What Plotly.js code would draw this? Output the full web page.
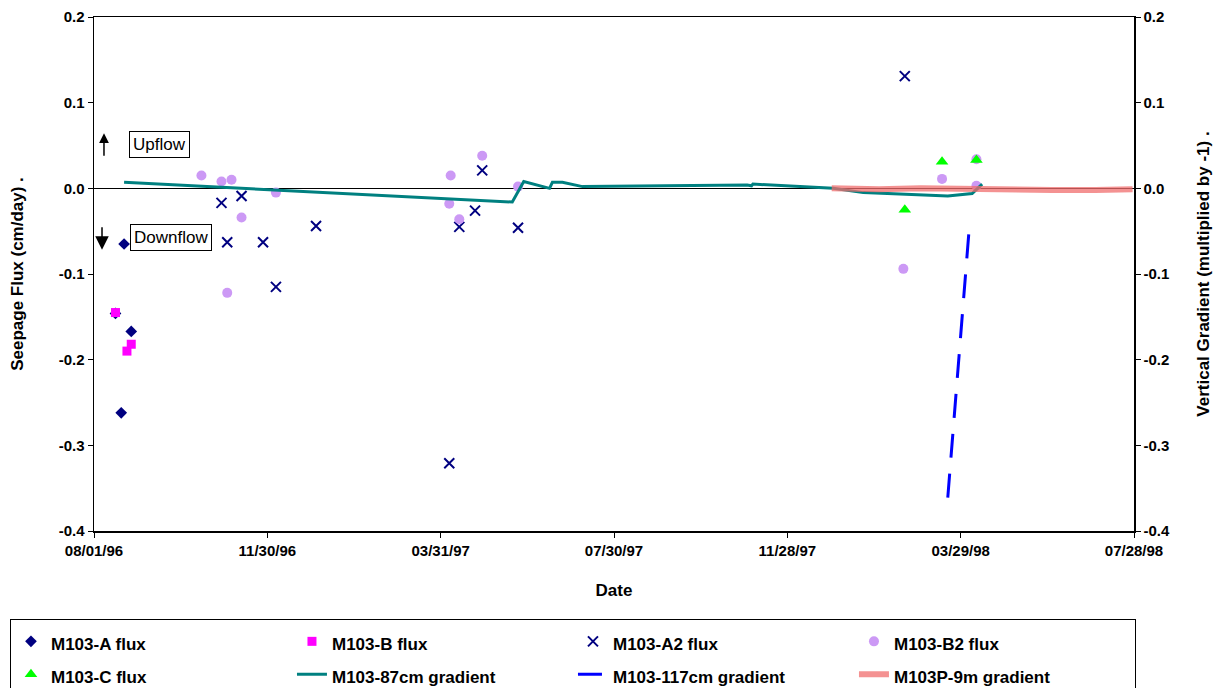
<!DOCTYPE html>
<html>
<head>
<meta charset="utf-8">
<script src="https://cdn.plot.ly/plotly-3.0.1.min.js"></script>
<style>html,body{margin:0;padding:0;background:#fff;}#chart{width:1223px;height:688px;}</style>
</head>
<body>
<div id="chart"></div>
<script>
// ---- data ----
const aDates = ['1996-08-16', '1996-08-20', '1996-08-22', '1996-08-27'];
const aFlux  = [-0.146, -0.262, -0.065, -0.167];

const bDates = ['1996-08-16', '1996-08-24', '1996-08-27'];
const bFlux  = [-0.145, -0.190, -0.182];

const a2Dates = ['1996-10-29', '1996-11-02', '1996-11-12', '1996-11-27', '1996-12-06', '1997-01-03',
                 '1997-04-06', '1997-04-13', '1997-04-24', '1997-04-29', '1997-05-24', '1998-02-18'];
const a2Flux  = [-0.017, -0.063, -0.009, -0.063, -0.115, -0.044,
                 -0.321, -0.045, -0.026, 0.021, -0.046, 0.131];

const b2Dates = ['1996-10-15', '1996-10-29', '1996-11-02', '1996-11-05', '1996-11-12', '1996-12-06',
                 '1997-04-06', '1997-04-07', '1997-04-13', '1997-04-29', '1997-05-24',
                 '1998-02-17', '1998-03-16', '1998-04-09', '1998-04-09'];
const b2Flux  = [0.015, 0.008, -0.122, 0.010, -0.034, -0.005,
                 -0.018, 0.015, -0.036, 0.038, 0.002,
                 -0.094, 0.011, 0.034, 0.003];

const cDates = ['1998-02-18', '1998-03-16', '1998-04-09'];
const cFlux  = [-0.025, 0.031, 0.033];

const g87Dates = ['1996-08-22', '1996-12-22', '1997-05-20', '1997-05-28', '1997-06-08', '1997-06-15',
                  '1997-06-17', '1997-06-24', '1997-07-08', '1997-10-31', '1997-11-03', '1997-11-04',
                  '1997-12-30', '1998-01-20', '1998-03-20', '1998-04-06', '1998-04-13'];
const g87Grad  = [0.007, -0.003, -0.016, 0.008, 0.003, 0.000,
                  0.007, 0.007, 0.002, 0.004, 0.003, 0.005,
                  0.000, -0.005, -0.009, -0.006, 0.005];

const g117Dates = ['1998-03-20', '1998-04-04'];
const g117Grad  = [-0.361, -0.046];

const g9Dates = ['1997-12-29', '1998-01-31', '1998-03-01', '1998-04-01', '1998-05-01', '1998-06-01', '1998-07-01', '1998-07-27'];
const g9Grad  = [0.000, -0.001, 0.000, -0.001, -0.001, -0.002, -0.002, -0.001];

const xTickVals = ['1996-08-01', '1996-11-30', '1997-03-31', '1997-07-30', '1997-11-28', '1998-03-29', '1998-07-28'];
const xTickText = ['08/01/96', '11/30/96', '03/31/97', '07/30/97', '11/28/97', '03/29/98', '07/28/98'];
const yTickVals = [-0.4, -0.3, -0.2, -0.1, 0.0, 0.1, 0.2];
const yTickText = ['-0.4', '-0.3', '-0.2', '-0.1', '0.0', '0.1', '0.2'];

// ---- chart ----
const F = 'Liberation Sans, Arial, sans-serif';
const L = s => '<span style="font-size:17px">' + s + '</span>';
const traces = [
  {x: aDates, y: aFlux, name: L('M103-A flux'), type: 'scatter', mode: 'markers',
   marker: {symbol: 'diamond', size: 9, color: '#000080'}},
  {x: bDates, y: bFlux, name: L('M103-B flux'), type: 'scatter', mode: 'markers',
   marker: {symbol: 'square', size: 9, color: '#ff00ff'}},
  {x: a2Dates, y: a2Flux, name: L('M103-A2 flux'), type: 'scatter', mode: 'markers',
   marker: {symbol: 'x-thin-open', size: 10, color: '#000080', line: {color: '#000080', width: 2}}},
  {x: b2Dates, y: b2Flux, name: L('M103-B2 flux'), type: 'scatter', mode: 'markers',
   marker: {symbol: 'circle', size: 10, color: '#cc99f5'}},
  {x: cDates, y: cFlux, name: L('M103-C flux'), type: 'scatter', mode: 'markers',
   marker: {symbol: 'triangle-up', size: 11, color: '#00ff00'}},
  {x: g87Dates, y: g87Grad, name: L('M103-87cm gradient'), type: 'scatter', mode: 'lines', yaxis: 'y2',
   line: {color: '#008080', width: 3}},
  {x: g117Dates, y: g117Grad, name: L('M103-117cm gradient'), type: 'scatter', mode: 'lines', yaxis: 'y2',
   line: {color: '#0000ff', width: 3, dash: '24px,16px'}},
  {x: g9Dates, y: g9Grad, name: L('M103P-9m gradient'), type: 'scatter', mode: 'lines', yaxis: 'y2',
   line: {color: 'rgba(240,110,110,0.75)', width: 6}}
];

const tickFont = {family: F, size: 15, color: '#000', weight: 'bold'};
const titleFont = {family: F, size: 17, color: '#000', weight: 'bold'};

const layout = {
  width: 1223, height: 688,
  margin: {l: 94, r: 89, t: 17, b: 157, autoexpand: false},
  paper_bgcolor: '#fff', plot_bgcolor: '#fff',
  showlegend: true,
  xaxis: {
    type: 'date', range: ['1996-08-01', '1998-07-28'], automargin: false,
    tickmode: 'array', tickvals: xTickVals, ticktext: xTickText,
    ticks: 'outside', ticklen: 5, tickcolor: '#000',
    showline: true, linecolor: '#000', linewidth: 1.5, mirror: true,
    showgrid: false, zeroline: false,
    tickfont: tickFont,
    title: {text: 'Date', font: titleFont, standoff: 26}
  },
  yaxis: {
    range: [-0.4, 0.2], automargin: false,
    tickmode: 'array', tickvals: yTickVals, ticktext: yTickText,
    ticks: 'outside', ticklen: 5, tickcolor: '#000',
    showline: true, linecolor: '#000', linewidth: 1.5,
    showgrid: false, zeroline: true, zerolinecolor: '#000', zerolinewidth: 1,
    tickfont: tickFont,
    title: {text: 'Seepage Flux (cm/day) .', font: titleFont, standoff: 30}
  },
  yaxis2: {
    overlaying: 'y', side: 'right', automargin: false,
    range: [-0.4, 0.2], tickmode: 'array', tickvals: yTickVals, ticktext: yTickText,
    ticks: 'outside', ticklen: 5, tickcolor: '#000',
    showline: true, linecolor: '#000', linewidth: 1.5,
    showgrid: false, zeroline: false,
    tickfont: tickFont,
    title: {text: 'Vertical Gradient (multiplied by -1) .', font: titleFont, standoff: 28}
  },
  legend: {
    orientation: 'h', x: -0.0808, xanchor: 'left', y: -0.171, yanchor: 'top',
    bordercolor: '#000', borderwidth: 1, bgcolor: '#fff',
    font: {family: F, size: 23, color: '#000', weight: 'bold'},
    entrywidth: 236, entrywidthmode: 'pixels', tracegroupgap: 0
  },
  annotations: [
    {xref: 'paper', yref: 'paper', x: 0.063, y: 0.752, xanchor: 'center', yanchor: 'middle', text: 'Upflow', showarrow: false,
     font: {family: F, size: 17, color: '#000'}, bordercolor: '#000', borderwidth: 1, borderpad: 3, bgcolor: '#fff'},
    {xref: 'paper', yref: 'paper', x: 0.074, y: 0.571, xanchor: 'center', yanchor: 'middle', text: 'Downflow', showarrow: false,
     font: {family: F, size: 17, color: '#000'}, bordercolor: '#000', borderwidth: 1, borderpad: 3, bgcolor: '#fff'},
    {xref: 'paper', yref: 'paper', x: 0.0096, y: 0.774, text: '', showarrow: true,
     ax: 0, ay: 24, arrowhead: 2, arrowsize: 1.3, arrowwidth: 1.5, arrowcolor: '#000'},
    {xref: 'paper', yref: 'paper', x: 0.0077, y: 0.547, text: '', showarrow: true,
     ax: 0, ay: -24, arrowhead: 2, arrowsize: 1.8, arrowwidth: 1.5, arrowcolor: '#000'}
  ]
};

Plotly.newPlot('chart', traces, layout, {displayModeBar: false, staticPlot: true});
</script>
</body>
</html>
